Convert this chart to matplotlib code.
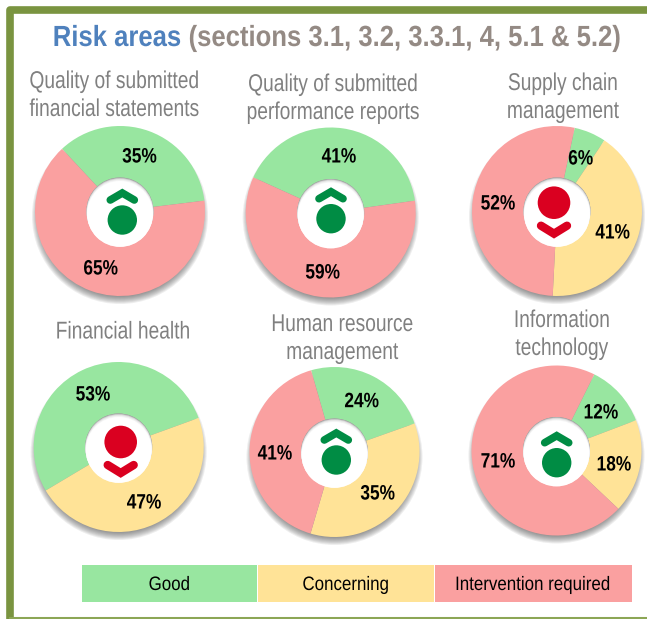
import matplotlib
matplotlib.use("Agg")
import matplotlib.pyplot as plt
from matplotlib.patches import Circle, Rectangle
from matplotlib.patheffects import AbstractPathEffect
from matplotlib.text import Text
from matplotlib.transforms import Affine2D

plt.rcParams["font.family"] = ["Liberation Sans", "DejaVu Sans"]

# data
CHART_TITLES = [
    "Quality of submitted\nfinancial statements",
    "Quality of submitted\nperformance reports",
    "Supply chain\nmanagement",
    "Financial health",
    "Human resource\nmanagement",
    "Information\ntechnology",
]
GOOD = [35, 41, 6, 53, 24, 12]
CONCERNING = [0, 0, 41, 47, 35, 18]
INTERVENTION = [65, 59, 52, 0, 41, 71]
TREND = ["up", "up", "down", "down", "up", "up"]
LEGEND_LABELS = ["Good", "Concerning", "Intervention required"]

# layout, all in reference pixels (y measured from the top)
W, H = 647, 619
RADIUS = 85
HOLE = 33.5
CENTERS = [(120, 211), (330.7, 212.5), (557, 211), (118.7, 447), (334.5, 452), (556.5, 450.5)]
START_ANGLES = [133, 155.6, 78, 210.8, 106, 63.6]
ICONS = [(122.3, 220), (331, 218.7), (554, 202.7), (120.7, 442), (336.3, 460), (556.7, 462.7)]
TITLE_POS = [(114, 96), (332.7, 99), (562.7, 98), (122.7, 332.5), (342, 339), (561.7, 335)]
LABEL_POS = [
    [(139.5, 157), None, (100.7, 269)],
    [(339, 157), None, (322.7, 273)],
    [(580.7, 159), (612.7, 233), (498, 204)],
    [(93, 395), (144, 503), None],
    [(361.7, 401.7), (377.7, 494), (275, 454)],
    [(601, 413), (614, 465), (498, 462)],
]
LEGEND_X = [82, 258, 435, 632.5]

COLORS = ["#98E6A0", "#FFE397", "#FAA0A0"]
GREEN_ICON = "#008C44"
RED_ICON = "#DA0020"
FRAME = "#7A9440"
GREY = "#808080"


def Y(y):
    return H - y


class Squeeze(AbstractPathEffect):
    # the reference font is a narrow Arial, none is installed
    def __init__(self, text):
        super().__init__()
        self.text = text

    def draw_path(self, renderer, gc, tpath, affine, rgbFace=None):
        xc = self.text.get_transform().transform(self.text.get_position())[0]
        squeeze = Affine2D().translate(-xc, 0).scale(self.text.squeeze, 1).translate(xc, 0)
        renderer.draw_path(gc, tpath, affine + squeeze, rgbFace)


def put_text(ax, x, y, s, squeeze=0.83, **kw):
    t = Text(x, Y(y), s, ha="center", va="center", **kw)
    t.squeeze = squeeze
    t.set_path_effects([Squeeze(t)])
    ax.add_artist(t)
    return t


fig = plt.figure(figsize=(W / 100, H / 100), dpi=100)
ax = fig.add_axes([0, 0, 1, 1])

# frame
ax.plot([9.5, 9.5, W], [Y(618), Y(10), Y(10)], color=FRAME, lw=5.5, solid_joinstyle="round", zorder=1)
ax.plot([9.5, W], [Y(618), Y(618)], color="#8CA655", lw=2.2, zorder=1)

# title
put_text(ax, 117, 38, "Risk areas", color="#4F81BD", fontsize=21, fontweight="bold", squeeze=0.88)
put_text(ax, 405, 38, "(sections 3.1, 3.2, 3.3.1, 4, 5.1 & 5.2)", color="#948A84", fontsize=21,
         fontweight="bold", squeeze=0.88)

for i in range(6):
    cx, cy = CENTERS[i]
    values = [GOOD[i], CONCERNING[i], INTERVENTION[i]]

    put_text(ax, TITLE_POS[i][0], TITLE_POS[i][1], CHART_TITLES[i], color=GREY, fontsize=17.5,
             squeeze=0.79, linespacing=1.35)

    # soft drop shadow under the ring
    for k in range(9):
        ax.add_patch(Circle((cx, Y(cy + 5)), RADIUS + 3 - k, color="#444444", alpha=0.09, lw=0, zorder=2))

    ax.pie(
        values,
        center=(cx, Y(cy)),
        radius=RADIUS,
        startangle=START_ANGLES[i],
        counterclock=False,
        colors=COLORS,
        wedgeprops={"width": RADIUS - HOLE, "linewidth": 0, "zorder": 3},
    )

    # hole with its inner shadow along the top edge
    ax.add_patch(Circle((cx, Y(cy)), HOLE, color="#B0B0B0", lw=0, zorder=4))
    for k in range(4):
        ax.add_patch(Circle((cx, Y(cy + 0.8 + k * 0.7)), HOLE - 0.2 * k, color="white", alpha=0.5, lw=0, zorder=4))
    ax.add_patch(Circle((cx, Y(cy + 3)), HOLE - 0.6, color="white", lw=0, zorder=4))

    # trend icon
    ix, iy = ICONS[i]
    if TREND[i] == "up":
        ax.add_patch(Circle((ix, Y(iy)), 14.7, color=GREEN_ICON, lw=0, zorder=5))
        ax.plot([ix - 12, ix, ix + 12], [Y(iy - 20), Y(iy - 27), Y(iy - 20)], color=GREEN_ICON, lw=5.5,
                solid_capstyle="round", solid_joinstyle="miter", zorder=5)
    else:
        ax.add_patch(Circle((ix, Y(iy)), 16.3, color=RED_ICON, lw=0, zorder=5))
        ax.plot([ix - 13, ix, ix + 13], [Y(iy + 23), Y(iy + 31), Y(iy + 23)], color=RED_ICON, lw=6,
                solid_capstyle="round", solid_joinstyle="miter", zorder=5)

    for value, pos in zip(values, LABEL_POS[i]):
        if value:
            put_text(ax, pos[0], pos[1], f"{value}%", color="black", fontsize=15, fontweight="bold",
                     squeeze=0.83, zorder=6)

# legend strip
for j, label in enumerate(LEGEND_LABELS):
    x0, x1 = LEGEND_X[j], LEGEND_X[j + 1] - 1
    ax.add_patch(Rectangle((x0, Y(601.5)), x1 - x0, 36.5, color=COLORS[j], lw=0, zorder=3))
    put_text(ax, (x0 + x1) / 2, 585.5, label, color="black", fontsize=14, squeeze=0.87, zorder=4)

ax.set_xlim(0, W)
ax.set_ylim(0, H)
ax.set_aspect("auto")
ax.axis("off")

fig.savefig("out.png", dpi=100)
